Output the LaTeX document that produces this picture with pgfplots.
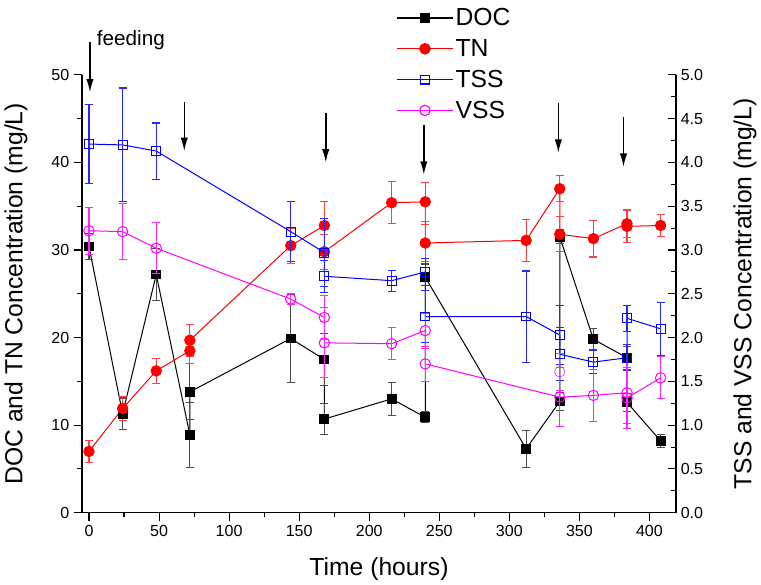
\documentclass[border=0pt]{standalone}
\usepackage{pgfplots}
\pgfplotsset{compat=1.18}
\usepackage{fontspec}
\setmainfont{Liberation Sans}
\usetikzlibrary{arrows.meta}

\definecolor{docc}{RGB}{0,0,0}
\definecolor{tnc}{RGB}{255,0,0}
\definecolor{tssc}{RGB}{0,0,255}
\definecolor{vssc}{RGB}{255,0,255}

\pgfplotsset{
  dualaxis/.style={
    scale only axis, width=445pt, height=328pt,
    xmin=-5, xmax=419,
    xtick={0,50,...,400}, minor x tick num=1,
    /pgf/number format/assume math mode=true,
    tick style={black, line width=0.8pt},
    major tick length=6pt, minor tick length=3.5pt,
    axis line style={line width=1pt},
    tick label style={font=\fontsize{12}{14}\selectfont},
    label style={font=\fontsize{18.5}{22}\selectfont},
  },
  ebar/.style={error bars/y dir=both, error bars/y explicit,
    error bars/error bar style={#1, line width=0.8pt},
    error bars/error mark options={#1, rotate=90, mark size=3pt, line width=0.8pt}},
}
\tikzset{feedarrow/.style={black, line width=1.1pt, -{Latex[length=10pt,width=5.5pt]}}}

\begin{document}
\begin{tikzpicture}
% left axis: DOC and TN
\begin{axis}[dualaxis,
  axis x line*=bottom, axis y line*=left, tick align=outside,
  ymin=0, ymax=50, ytick={0,10,...,50}, minor y tick num=1,
  xlabel={Time (hours)}, ylabel={DOC and TN Concentration (mg/L)},
  xlabel style={at={(axis description cs:0.5,-0.128)}, anchor=center},
  ylabel style={at={(axis description cs:-0.111,0.5)}, anchor=center},
  clip=false,
]
\addplot[docc, line width=0.75pt, mark=square*, mark size=3.3pt,
  mark options={solid}, ebar=docc!70]
  coordinates {
(0,30.4) +- (0,1.5)
(24,11.3) +- (0,1.8)
(48,27.2) +- (0,3.0)
(72,8.9) +- (0,3.7)
(72,13.8) +- (0,3.2)
(144,19.9) +- (0,5.0)
(168,17.5) +- (0,3.0)
(168,10.7) +- (0,1.8)
(216,13.0) +- (0,1.9)
(240,10.9) +- (0,0.6)
(240,26.9) +- (0,1.5)
(312,7.3) +- (0,2.1)
(336,12.7) +- (0,1.0)
(336,31.5) +- (0,0.8)
(360,19.8) +- (0,1.2)
(384,17.7) +- (0,1.3)
(384,12.6) +- (0,1.0)
(408,8.2) +- (0,0.7)
  };
\addplot[tnc, line width=0.75pt, mark=*, mark size=3.9pt,
  mark options={solid}, ebar=tnc!75]
  coordinates {
(0,7.0) +- (0,1.3)
(24,11.9) +- (0,1.4)
(48,16.2) +- (0,1.4)
(72,18.5) +- (0,1.5)
(72,19.7) +- (0,1.8)
(144,30.5) +- (0,2.0)
(168,32.8) +- (0,2.7)
(168,29.8) +- (0,2.0)
(216,35.4) +- (0,2.4)
(240,35.5) +- (0,2.2)
(240,30.8) +- (0,2.1)
(312,31.1) +- (0,2.4)
(336,37.0) +- (0,1.5)
(336,31.8) +- (0,2.0)
(360,31.3) +- (0,2.1)
(384,33.0) +- (0,1.6)
(384,32.7) +- (0,1.8)
(408,32.8) +- (0,1.3)
  };
% feeding arrows
\draw[feedarrow] (axis cs:0.7,53.7) -- (axis cs:0.7,48);
\draw[feedarrow] (axis cs:68,46.9) -- (axis cs:68,41.3);
\draw[feedarrow] (axis cs:169,45.7) -- (axis cs:169,40);
\draw[feedarrow] (axis cs:239,44.3) -- (axis cs:239,38.6);
\draw[feedarrow] (axis cs:335,46.8) -- (axis cs:335,41.1);
\draw[feedarrow] (axis cs:381.5,45.2) -- (axis cs:381.5,39.5);
\node[anchor=base west, font=\fontsize{15.5}{18}\selectfont, inner sep=0pt] at (axis cs:5.5,53.4) {feeding};
\path (axis description cs:-0.138,1.171) (axis description cs:1.143,-0.164);
\end{axis}

% right axis: TSS and VSS
\begin{axis}[dualaxis,
  axis y line*=right, axis x line=none, tick align=inside,
  ymin=0, ymax=5, ytick={0,0.5,1,1.5,2,2.5,3,3.5,4,4.5,5}, minor y tick num=1,
  yticklabel style={/pgf/number format/.cd, fixed, fixed zerofill, precision=1},
  ylabel={TSS and VSS Concentration (mg/L)},
  ylabel style={at={(axis description cs:1.116,0.5)}, anchor=center},
  legend style={at={(0.522,1.163)}, anchor=north west, draw=none, fill=none,
    font=\fontsize{18.5}{22}\selectfont, row sep=5.7pt,
    nodes={inner sep=1.5pt}},
  legend cell align=left,
  legend image code/.code={
    \draw[mark repeat=2, mark phase=2, #1] plot coordinates {(0pt,0pt) (21pt,0pt) (42pt,0pt)};},
]
\addlegendimage{draw=docc, line width=0.9pt, mark=square*, mark size=3.3pt, mark options={fill=docc}}
\addlegendentry{DOC}
\addlegendimage{draw=tnc, line width=0.9pt, mark=*, mark size=3.9pt, mark options={fill=tnc}}
\addlegendentry{TN}
\addlegendimage{draw=tssc, line width=0.9pt, mark=square, mark size=3.3pt}
\addlegendentry{TSS}
\addlegendimage{draw=vssc, line width=0.9pt, mark=o, mark size=3.9pt}
\addlegendentry{VSS}
\addplot[tssc, line width=0.75pt, mark=square, mark size=3.3pt,
  mark options={solid}, forget plot, ebar=tssc!85]
  coordinates {
(0,4.21) +- (0,0.45)
(24,4.20) +- (0,0.65)
(48,4.13) +- (0,0.32)
(144,3.21) +- (0,0.34)
(168,2.97) +- (0,0.39)
(168,2.70) +- (0,0.18)
(216,2.65) +- (0,0.12)
(240,2.75) +- (0,0.15)
(240,2.24) +- (0,0.30)
(312,2.24) +- (0,0.52)
(336,2.03) +- (0,0.34)
(336,1.81) +- (0,0.30)
(360,1.72) +- (0,0.13)
(384,1.77) +- (0,0.15)
(384,2.22) +- (0,0.15)
(408,2.10) +- (0,0.30)
  };
\addplot[vssc, line width=0.75pt, mark=o, mark size=3.9pt,
  mark options={solid}, forget plot, ebar=vssc!85]
  coordinates {
(0,3.22) +- (0,0.27)
(24,3.21) +- (0,0.32)
(48,3.02) +- (0,0.29)
(144,2.44) +- (0,0.06)
(168,2.23) +- (0,0.25)
(168,1.94) +- (0,0.40)
(216,1.93) +- (0,0.18)
(240,2.08) +- (0,0.20)
(240,1.70) +- (0,0.20)
(336,1.32) +- (0,0.34)
(360,1.34) +- (0,0.30)
(384,1.37) +- (0,0.35)
(384,1.31) +- (0,0.35)
(408,1.54) +- (0,0.24)
  };
% VSS point at 336 h that is not joined by the line
\addplot[vssc, only marks, mark=o, mark size=3.9pt, forget plot, ebar=vssc!85]
  coordinates {(336,1.61) +- (0,0.21)};
\end{axis}
\end{tikzpicture}
\end{document}
